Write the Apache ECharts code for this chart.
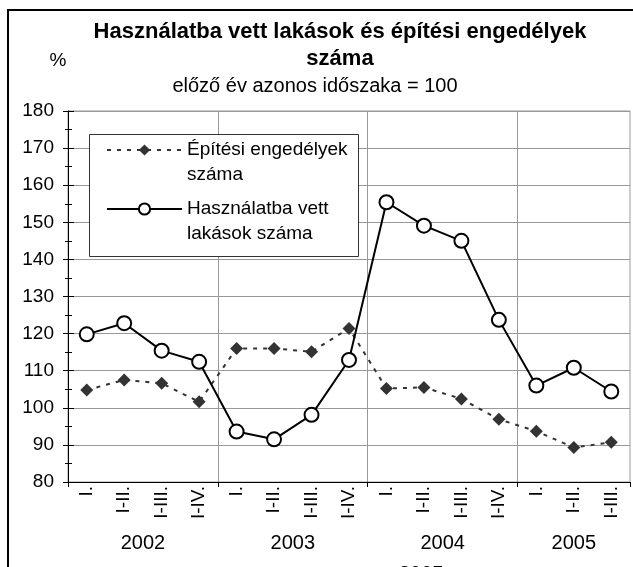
<!DOCTYPE html>
<html>
<head>
<meta charset="utf-8">
<script src="https://cdn.jsdelivr.net/npm/echarts@6.0.0/dist/echarts.min.js"></script>
<style>
  html, body { margin: 0; padding: 0; background: #fff; }
  #main { width: 633px; height: 567px; }
</style>
</head>
<body>
<div id="main"></div>
<script>
  // quarters (cumulative) and years
  let quarters = [
    'I.', 'I-II.', 'I-III.', 'I-IV.',
    'I.', 'I-II.', 'I-III.', 'I-IV.',
    'I.', 'I-II.', 'I-III.', 'I-IV.',
    'I.', 'I-II.', 'I-III.',
  ];
  let years = ['2002', '2003', '2004', '2005'];
  let quartersPerYear = [4, 4, 4, 3];

  // previous year same period = 100
  let permits = [104.8, 107.5, 106.6, 101.6, 116.0, 116.0, 115.1, 121.4, 105.2, 105.5, 102.4, 96.9, 93.7, 89.3, 90.7];
  let completed = [119.8, 122.8, 115.4, 112.4, 93.6, 91.5, 98.1, 112.9, 155.4, 149.1, 145.0, 123.7, 106.0, 110.8, 104.4];

  let permitsName = 'Építési engedélyek\nszáma';
  let completedName = 'Használatba vett\nlakások száma';

  // year axis: half-quarter steps, year label in the middle of its quarters
  let yearSlots = [];
  let yearBounds = [];
  let pos = 0;
  years.forEach(function (y, i) {
    yearBounds.push(pos);
    pos += quartersPerYear[i] * 2;
  });
  yearBounds.push(pos);
  for (let i = 0; i <= pos; i++) yearSlots.push('');
  years.forEach(function (y, i) {
    yearSlots[yearBounds[i] + quartersPerYear[i]] = y;
  });

  let font = 'Liberation Sans, Arial, sans-serif';
  let myChart = echarts.init(document.getElementById('main'));

  let option = {
    animation: false,
    backgroundColor: '#fff',
    textStyle: { fontFamily: font, color: '#000' },
    title: [
      {
        text: 'Használatba vett lakások és építési engedélyek\nszáma',
        left: 340, top: 18, padding: 0, textAlign: 'center',
        textStyle: { fontFamily: font, fontSize: 22, fontWeight: 'bold', lineHeight: 27, color: '#000' },
      },
      {
        text: 'előző év azonos időszaka = 100',
        left: 315, top: 76, padding: 0, textAlign: 'center',
        textStyle: { fontFamily: font, fontSize: 20, fontWeight: 'normal', color: '#000' },
      },
      {
        text: '%',
        left: 58, top: 51, padding: 0, textAlign: 'center',
        textStyle: { fontFamily: font, fontSize: 19, fontWeight: 'normal', color: '#000' },
      },
    ],
    graphic: [
      // outer frame
      { type: 'rect', z: 0, silent: true, shape: { x: 8, y: 10, width: 700, height: 700 },
        style: { fill: 'none', stroke: '#000', lineWidth: 2 } },
      // legend box
      { type: 'rect', z: 3, silent: true, shape: { x: 89.5, y: 134.5, width: 269, height: 122 },
        style: { fill: '#fff', stroke: '#333', lineWidth: 1 } },
      // clipped title of the next chart below
      { type: 'text', z: 3, silent: true, left: 399, top: 564,
        style: { text: '2005', font: 'bold 20px ' + font, fill: '#000' } },
    ],
    legend: {
      orient: 'vertical',
      left: 106,
      top: 112.5,
      z: 5,
      itemWidth: 75,
      itemHeight: 14,
      itemGap: -16,
      padding: 0,
      data: [permitsName, completedName],
      // empty first line so the icon sits beside the first text line
      formatter: function (name) { return '\n' + name; },
      textStyle: { fontFamily: font, fontSize: 19, lineHeight: 25, color: '#000' },
    },
    grid: {
      left: 68, right: 1, top: 111, bottom: 85,
      show: true, borderColor: '#999', borderWidth: 1,
    },
    xAxis: [
      {
        type: 'category',
        data: quarters,
        boundaryGap: true,
        axisLine: { lineStyle: { color: '#000', width: 1 } },
        axisTick: { show: false },
        splitLine: { show: false },
        axisLabel: { interval: 0, rotate: 90, margin: 4, fontSize: 19, fontFamily: font, color: '#000' },
      },
      {
        type: 'category',
        data: yearSlots,
        boundaryGap: false,
        position: 'bottom',
        axisLine: { show: false },
        axisTick: {
          show: true, length: 5,
          interval: function (index) { return yearBounds.indexOf(index) >= 0; },
          lineStyle: { color: '#000' },
        },
        splitLine: {
          show: true,
          interval: function (index) { return index > 0 && index < pos && yearBounds.indexOf(index) >= 0; },
          lineStyle: { color: '#999', width: 1 },
        },
        axisLabel: { interval: 0, margin: 51, fontSize: 20, fontFamily: font, color: '#000' },
      },
    ],
    yAxis: [
      {
        type: 'value',
        min: 80, max: 180, interval: 10,
        axisLine: { show: true, lineStyle: { color: '#000' } },
        axisTick: { show: true, length: 5, lineStyle: { color: '#000' } },
        minorTick: { show: true, splitNumber: 2, length: 3, lineStyle: { color: '#000' } },
        splitLine: { show: true, lineStyle: { color: '#999', width: 1 } },
        axisLabel: { margin: 14, fontSize: 19, fontFamily: font, color: '#000' },
      },
      {
        // inner half of the crossing ticks
        type: 'value',
        position: 'left',
        min: 80, max: 180, interval: 10,
        axisLine: { show: false },
        axisTick: { show: true, inside: true, length: 6, lineStyle: { color: '#000' } },
        minorTick: { show: true, splitNumber: 2, length: 4, lineStyle: { color: '#000' } },
        splitLine: { show: false },
        axisLabel: { show: false },
      },
    ],
    series: [
      {
        name: permitsName,
        type: 'line',
        data: permits,
        symbol: 'diamond',
        symbolSize: 13,
        itemStyle: { color: '#333' },
        lineStyle: { color: '#333', width: 2, type: [4, 6] },
        z: 3,
      },
      {
        name: completedName,
        type: 'line',
        data: completed,
        symbol: 'circle',
        symbolSize: 14,
        itemStyle: { color: '#fff', borderColor: '#000', borderWidth: 2 },
        lineStyle: { color: '#000', width: 2 },
        z: 4,
      },
    ],
  };

  myChart.setOption(option);
</script>
</body>
</html>
